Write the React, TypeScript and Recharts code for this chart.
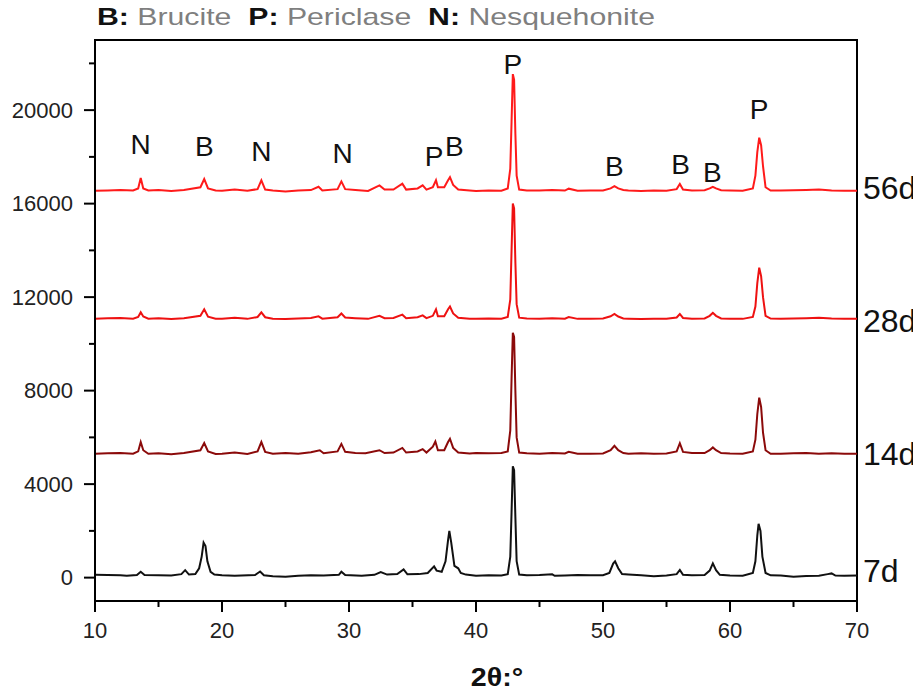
import { ComposedChart, Line, Scatter, XAxis, YAxis, ReferenceArea } from 'recharts';

const FONT = '"Liberation Sans", Arial, sans-serif';

// 2θ (deg) vs intensity; each pattern is already stacked
const pattern7d: [number, number][] = [
  [10, 120], [11, 110], [12, 100], [12.5, 80], [13.3, 110], [13.6, 250], [13.9, 110], [15, 100], [16, 90],
  [16.8, 150], [17.1, 320], [17.4, 130], [17.9, 150], [18.2, 400], [18.4, 900], [18.55, 1500], [18.7, 1350],
  [18.85, 700], [19.1, 250], [19.4, 130], [20, 100], [21, 80], [22.6, 110], [23.0, 260], [23.3, 100], [24, 60],
  [25, 40], [26, 80], [27, 100], [28, 90], [29.2, 120], [29.4, 250], [29.7, 110], [31, 80], [32, 120],
  [32.5, 240], [33, 130], [33.8, 150], [34.3, 350], [34.6, 140], [35.5, 150], [36.2, 200], [36.7, 480],
  [36.9, 300], [37.3, 250], [37.6, 700], [37.8, 1600], [37.9, 2000], [38.05, 1500], [38.3, 500], [38.6, 400],
  [38.8, 200], [39.2, 130], [40, 80], [41, 100], [42, 90], [42.5, 150], [42.7, 900], [42.8, 2800], [42.9, 4760],
  [43.0, 4600], [43.1, 2600], [43.2, 700], [43.4, 130], [44, 100], [45, 110], [46, 140], [46.2, 80], [47, 90],
  [48, 110], [49, 100], [50, 100], [50.5, 200], [50.8, 600], [50.95, 700], [51.2, 400], [51.5, 150], [52, 130],
  [53, 100], [54, 60], [55, 90], [55.8, 150], [56.05, 330], [56.3, 120], [57, 100], [58, 110], [58.4, 300],
  [58.65, 610], [58.9, 320], [59.2, 120], [60, 90], [61, 80], [61.8, 200], [62.0, 700], [62.15, 1800],
  [62.25, 2300], [62.4, 2000], [62.55, 900], [62.8, 200], [63.2, 100], [64, 90], [65, 40], [66, 70], [67, 80],
  [67.7, 150], [68.0, 180], [68.3, 90], [69, 80], [70, 90],
];

const pattern14d: [number, number][] = [
  [10, 5300], [11, 5320], [12, 5330], [13, 5300], [13.4, 5400], [13.6, 5800], [13.8, 5450], [14.2, 5300],
  [15, 5320], [16, 5280], [17, 5330], [18.3, 5450], [18.6, 5760], [18.9, 5400], [19.5, 5290], [20, 5300],
  [21, 5350], [22, 5290], [22.8, 5400], [23.1, 5800], [23.4, 5380], [24, 5300], [25, 5330], [26, 5300],
  [27, 5360], [27.7, 5450], [28, 5320], [29.1, 5400], [29.4, 5720], [29.7, 5380], [30.5, 5330], [31.3, 5320],
  [32.4, 5450], [32.8, 5330], [33.5, 5350], [34.2, 5550], [34.5, 5350], [35.4, 5400], [35.8, 5500], [36.1, 5350],
  [36.6, 5600], [36.8, 5820], [37.0, 5450], [37.5, 5450], [37.8, 5800], [37.95, 5940], [38.2, 5550], [38.6, 5350],
  [39.5, 5310], [40, 5330], [41, 5320], [42, 5330], [42.5, 5400], [42.7, 6300], [42.8, 8500], [42.9, 10470],
  [43.0, 10300], [43.1, 8000], [43.2, 6000], [43.4, 5350], [44, 5320], [45, 5300], [46, 5330], [47, 5310],
  [47.3, 5380], [48, 5300], [49, 5300], [50, 5310], [50.6, 5450], [50.9, 5640], [51.2, 5450], [51.6, 5330],
  [52, 5300], [53, 5320], [54, 5300], [55, 5310], [55.8, 5400], [56.05, 5750], [56.3, 5380], [57, 5330],
  [58, 5330], [58.4, 5450], [58.65, 5570], [58.9, 5450], [59.3, 5330], [60, 5310], [61, 5300], [61.8, 5400],
  [62.0, 5900], [62.15, 7000], [62.3, 7700], [62.45, 7300], [62.6, 6200], [62.8, 5450], [63.2, 5300], [64, 5300],
  [65, 5320], [66, 5330], [67, 5300], [68, 5320], [69, 5300], [70, 5300],
];

const pattern28d: [number, number][] = [
  [10, 11080], [11, 11100], [12, 11110], [13, 11080], [13.4, 11150], [13.6, 11350], [13.8, 11170], [14.2, 11080],
  [15, 11100], [16, 11060], [17, 11100], [18.3, 11200], [18.6, 11480], [18.9, 11160], [19.5, 11080], [20, 11080],
  [21, 11120], [22, 11070], [22.8, 11150], [23.1, 11350], [23.4, 11140], [24, 11080], [25, 11060], [26, 11090],
  [27, 11110], [27.6, 11180], [27.9, 11080], [29.1, 11140], [29.4, 11300], [29.7, 11130], [30.5, 11100],
  [31.5, 11070], [32.4, 11200], [32.8, 11100], [33.5, 11110], [34.2, 11250], [34.5, 11100], [35.4, 11140],
  [35.8, 11220], [36.1, 11100], [36.6, 11200], [36.85, 11480], [37.0, 11180], [37.5, 11180], [37.8, 11480],
  [37.95, 11600], [38.2, 11300], [38.6, 11120], [39.5, 11080], [40, 11070], [41, 11090], [42, 11080],
  [42.5, 11150], [42.7, 11900], [42.8, 14000], [42.9, 16000], [43.0, 15800], [43.1, 13500], [43.2, 11700],
  [43.4, 11120], [44, 11090], [45, 11080], [46, 11100], [47, 11080], [47.3, 11150], [48, 11070], [49, 11080],
  [50, 11090], [50.6, 11180], [50.9, 11280], [51.2, 11170], [51.6, 11090], [52, 11080], [53, 11060], [54, 11080],
  [55, 11070], [55.8, 11130], [56.05, 11280], [56.3, 11110], [57, 11080], [58, 11090], [58.4, 11200],
  [58.65, 11330], [58.9, 11200], [59.3, 11090], [60, 11080], [61, 11070], [61.8, 11150], [62.0, 11600],
  [62.15, 12600], [62.3, 13260], [62.45, 12900], [62.6, 12000], [62.8, 11200], [63.2, 11080], [64, 11070],
  [65, 11090], [66, 11100], [67, 11120], [68, 11090], [69, 11080], [70, 11080],
];

const pattern56d: [number, number][] = [
  [10, 16550], [11, 16560], [12, 16580], [13, 16560], [13.4, 16650], [13.6, 17100], [13.8, 16650], [14.2, 16560],
  [15, 16580], [16, 16540], [17, 16580], [18.3, 16700], [18.6, 17050], [18.9, 16650], [19.5, 16560], [20, 16550],
  [21, 16600], [22, 16550], [22.8, 16620], [23.1, 17000], [23.4, 16600], [24, 16560], [25, 16520], [26, 16560],
  [27, 16580], [27.6, 16720], [27.9, 16560], [29.1, 16620], [29.4, 16950], [29.7, 16620], [30.5, 16580],
  [31.5, 16540], [32.4, 16780], [32.8, 16600], [33.5, 16600], [34.2, 16850], [34.5, 16600], [35.4, 16650],
  [35.8, 16780], [36.1, 16600], [36.6, 16700], [36.85, 17000], [37.0, 16700], [37.5, 16700], [37.8, 17000],
  [37.95, 17130], [38.2, 16800], [38.6, 16600], [39.5, 16560], [40, 16540], [41, 16560], [42, 16550],
  [42.5, 16650], [42.7, 17500], [42.8, 19500], [42.9, 21540], [43.0, 21300], [43.1, 19000], [43.2, 17200],
  [43.4, 16600], [44, 16560], [45, 16560], [46, 16580], [47, 16560], [47.3, 16640], [48, 16550], [49, 16560],
  [50, 16560], [50.6, 16650], [50.9, 16750], [51.2, 16650], [51.6, 16580], [52, 16560], [53, 16540], [54, 16560],
  [55, 16550], [55.8, 16620], [56.05, 16840], [56.3, 16600], [57, 16560], [58, 16570], [58.4, 16650],
  [58.65, 16720], [58.9, 16650], [59.3, 16570], [60, 16560], [61, 16550], [61.8, 16650], [62.0, 17200],
  [62.15, 18200], [62.3, 18820], [62.45, 18500], [62.6, 17600], [62.8, 16700], [63.2, 16560], [64, 16560],
  [65, 16570], [66, 16580], [67, 16600], [68, 16560], [69, 16550], [70, 16550],
];

const sampleNames = ['7d', '14d', '28d', '56d'];
const sampleColors = ['#111111', '#8b0a0a', '#ee1111', '#ff1a1a'];
const samplePatterns = [pattern7d, pattern14d, pattern28d, pattern56d];
const sampleLabelY = [300, 5300, 10980, 16670];

// phase markers above the 56d pattern
const phaseText = ['N', 'B', 'N', 'N', 'P', 'B', 'P', 'B', 'B', 'B', 'P'];
const phaseX = [13.6, 18.6, 23.1, 29.5, 36.7, 38.3, 42.9, 50.9, 56.1, 58.6, 62.3];
const phaseY = [18550, 18460, 18250, 18160, 18030, 18460, 21970, 17600, 17690, 17350, 20040];

const xTicks = [10, 15, 20, 25, 30, 35, 40, 45, 50, 55, 60, 65, 70];
const yTicks = [0, 2000, 4000, 6000, 8000, 10000, 12000, 14000, 16000, 18000, 20000, 22000];

const toPoints = (p: [number, number][]) => p.map(([x, y]) => ({ x, y }));

const phaseData = phaseText.map((t, i) => ({ x: phaseX[i], y: phaseY[i], text: t }));
const sampleLabelData = sampleNames.map((t, i) => ({ x: 70, y: sampleLabelY[i], text: t }));

function XTick(props: any) {
  const { x, y, payload } = props;
  const major = payload.value % 10 === 0;
  return (
    <g>
      <line x1={x} x2={x} y1={y} y2={y + (major ? 11 : 6)} stroke="#000" strokeWidth={2} />
      {major ? (
        <text x={x} y={y + 29} textAnchor="middle" dominantBaseline="central" fontSize={22} fill="#222" fontFamily={FONT}>
          {payload.value}
        </text>
      ) : null}
    </g>
  );
}

function YTick(props: any) {
  const { x, y, payload } = props;
  const major = payload.value % 4000 === 0;
  return (
    <g>
      <line x1={x - (major ? 11 : 6)} x2={x} y1={y} y2={y} stroke="#000" strokeWidth={2} />
      {major ? (
        <text x={x - 22} y={y} textAnchor="end" dominantBaseline="central" fontSize={22} fill="#222" fontFamily={FONT}>
          {payload.value}
        </text>
      ) : null}
    </g>
  );
}

const PhaseLabel = (props: any) => (
  <text x={props.cx} y={props.cy} textAnchor="middle" dominantBaseline="central" fontSize={28} fill="#111" fontFamily={FONT}>
    {props.payload.text}
  </text>
);

const SampleLabel = (props: any) => (
  <text x={props.cx + 6} y={props.cy} textAnchor="start" dominantBaseline="central" fontSize={32} fill="#111" fontFamily={FONT}>
    {props.payload.text}
  </text>
);

export default function App() {
  return (
    <div style={{ position: 'relative', width: 913, height: 683, fontFamily: FONT }}>
      <div
        style={{
          position: 'absolute',
          left: 89,
          top: -4,
          fontSize: 24,
          lineHeight: '26px',
          whiteSpace: 'nowrap',
          transform: 'scaleX(1.26)',
          transformOrigin: 'left center',
          color: '#7f7f7f',
        }}
      >
        <b style={{ color: '#111' }}>B:</b> Brucite&nbsp; <b style={{ color: '#111' }}>P:</b> Periclase&nbsp;{' '}
        <b style={{ color: '#111' }}>N:</b> Nesquehonite
      </div>
      <ComposedChart width={913} height={683} margin={{ top: 32, right: 64, left: 0, bottom: 30 }}>
        <XAxis
          dataKey="x"
          type="number"
          domain={[10, 70]}
          ticks={xTicks}
          interval={0}
          tickSize={0}
          tickMargin={0}
          tickLine={false}
          tick={<XTick />}
          axisLine={{ stroke: '#000', strokeWidth: 2 }}
          height={60}
        />
        <YAxis
          dataKey="y"
          type="number"
          domain={[-1000, 23000]}
          ticks={yTicks}
          interval={0}
          tickSize={0}
          tickMargin={0}
          tickLine={false}
          tick={<YTick />}
          axisLine={{ stroke: '#000', strokeWidth: 2 }}
          width={87}
        />
        <ReferenceArea x1={10} x2={70} y1={-1000} y2={23000} fill="none" stroke="#000" strokeWidth={2} />
        {samplePatterns.map((p, i) => (
          <Line
            key={sampleNames[i]}
            data={toPoints(p)}
            dataKey="y"
            type="linear"
            stroke={sampleColors[i]}
            strokeWidth={2}
            dot={false}
            isAnimationActive={false}
          />
        ))}
        <Scatter data={phaseData} dataKey="y" shape={PhaseLabel} isAnimationActive={false} />
        <Scatter data={sampleLabelData} dataKey="y" shape={SampleLabel} isAnimationActive={false} />
      </ComposedChart>
      <div
        style={{
          position: 'absolute',
          left: 489,
          top: 669,
          transform: 'translate(-50%, -50%) scaleX(1.1)',
          fontSize: 26,
          lineHeight: '28px',
          fontWeight: 'bold',
          color: '#111',
          whiteSpace: 'nowrap',
        }}
      >
        2θ:°
      </div>
    </div>
  );
}
